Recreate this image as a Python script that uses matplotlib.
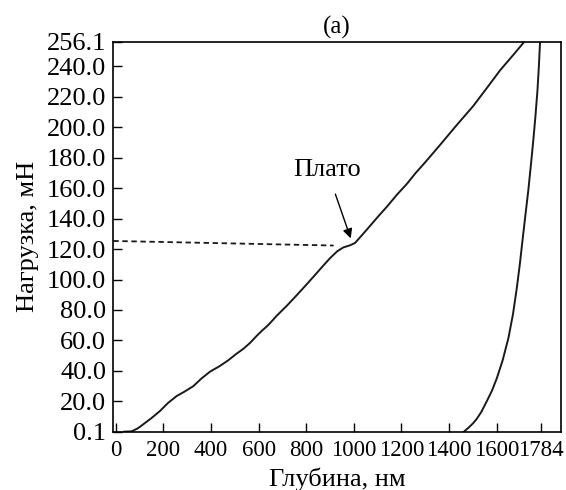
import numpy as np
import matplotlib
matplotlib.use('Agg')
import matplotlib.pyplot as plt

# нагрузка (loading) - глубина, нм / нагрузка, мН
load_depth = [35, 67, 95, 116, 150, 186, 220, 256, 290, 326, 360, 396, 435, 473, 505,
              536, 565, 592, 615, 640, 678, 720, 762, 800, 840, 871, 900, 930,
              955, 985, 1005, 1025, 1056, 1100, 1140, 1180, 1224, 1260, 1300,
              1363, 1430, 1502, 1560, 1615, 1670, 1716]
load_force = [0.1, 0.3, 2.5, 5, 9, 13.7, 19, 23.5, 26.5, 30, 35, 39.5, 43, 47, 51,
              54.5, 58.5, 63, 66.5, 70, 76.5, 83, 90, 96.5, 103.5, 109, 114, 118.5,
              121, 122.5, 124, 127.5, 133, 141, 148, 155.5, 163, 170, 177,
              188.5, 201, 214, 226, 237.5, 247.5, 256.1]

# разгрузка (unloading)
unload_depth = [1462, 1480, 1500, 1516, 1535, 1558, 1580, 1600, 1625, 1649, 1668,
                1684, 1697, 1709, 1721, 1733, 1744, 1754, 1763, 1771, 1777, 1782]
unload_force = [0.1, 2.5, 5.5, 8.5, 13, 20, 27, 35, 47, 61.5, 77,
                94, 110, 126.7, 143, 159, 176, 192, 208, 224, 240, 256.1]

# плато
plateau_depth = [-10, 915]
plateau_force = [125.3, 122.3]

x_ticks = [0, 200, 400, 600, 800, 1000, 1200, 1400, 1600, 1784]
y_ticks = [0.1, 20, 40, 60, 80, 100, 120, 140, 160, 180, 200, 220, 240, 256.1]
y_labels = ['0.1', '20.0', '40.0', '60.0', '80.0', '100.0', '120.0', '140.0',
            '160.0', '180.0', '200.0', '220.0', '240.0', '256.1']

plt.rcParams['font.family'] = ['Liberation Serif', 'DejaVu Serif']

fig = plt.figure(figsize=(5.66, 4.90), dpi=100)
ax = fig.add_axes([0.2002, 0.119, 0.7910, 0.7959])

ax.plot(load_depth, load_force, color='#1a1a1a', lw=1.4)
ax.plot(unload_depth, unload_force, color='#1a1a1a', lw=1.4)
ax.plot(plateau_depth, plateau_force, color='#1a1a1a', lw=1.3, linestyle=(0, (3, 2)))

ax.annotate('Плато', xy=(987, 127), xytext=(887, 172), ha='center', va='center',
            fontsize=19,
            arrowprops=dict(arrowstyle='-|>', color='black', lw=1.0,
                            mutation_scale=14, shrinkA=8, shrinkB=0))

ax.set_xlim(-10, 1870)
ax.set_ylim(0.1, 256.1)
ax.set_xticks(x_ticks)
ax.set_xticklabels([str(v) for v in x_ticks], fontsize=16.5)
ax.set_yticks(y_ticks)
ax.set_yticklabels(y_labels, fontsize=19)
ax.tick_params(direction='in', length=6.5, width=1.0, top=False, right=False)
ax.tick_params(axis='y', pad=5)
ax.tick_params(axis='x', pad=6)

for sp in ax.spines.values():
    sp.set_linewidth(1.2)

ax.set_xlabel('Глубина, нм', fontsize=19, labelpad=5)
ax.set_ylabel('Нагрузка, мН', fontsize=19, labelpad=6)
ax.set_title('(a)', fontsize=18, pad=6)

fig.savefig('out.png', dpi=100)
